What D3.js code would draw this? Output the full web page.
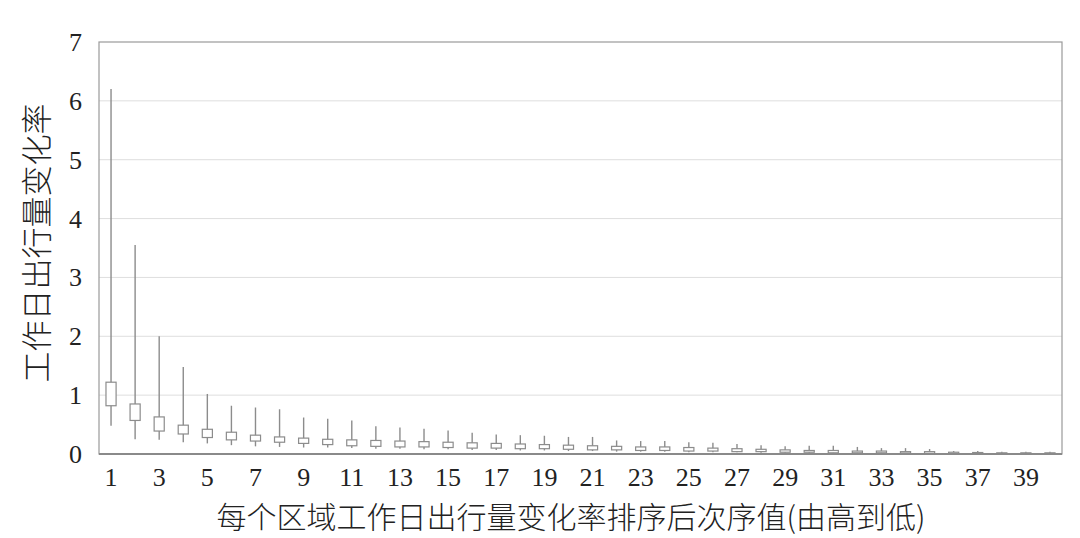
<!DOCTYPE html>
<html>
<head>
<meta charset="utf-8">
<script src="https://cdn.jsdelivr.net/npm/d3@7"></script>
<style>
  body { margin: 0; background: #fff; }
  svg text { fill: #222; }
</style>
</head>
<body>
<svg id="chart" width="1080" height="538"></svg>
<script>
// ranks 1..40
var ranks = d3.range(1, 41);
var maxVals = [6.2, 3.55, 2.0, 1.48, 1.02, 0.82, 0.79, 0.76, 0.62, 0.60,
  0.57, 0.47, 0.45, 0.43, 0.40, 0.36, 0.33, 0.32, 0.31, 0.29,
  0.29, 0.23, 0.22, 0.22, 0.20, 0.19, 0.17, 0.15, 0.13, 0.14,
  0.14, 0.12, 0.10, 0.10, 0.085, 0.05, 0.05, 0.04, 0.04, 0.04];
var q3Vals = [1.22, 0.85, 0.63, 0.49, 0.42, 0.37, 0.32, 0.29, 0.27, 0.25,
  0.24, 0.23, 0.22, 0.21, 0.20, 0.19, 0.18, 0.17, 0.16, 0.15,
  0.14, 0.13, 0.12, 0.12, 0.11, 0.10, 0.09, 0.08, 0.07, 0.06,
  0.06, 0.05, 0.05, 0.04, 0.04, 0.03, 0.025, 0.02, 0.02, 0.02];
var q1Vals = [0.82, 0.57, 0.39, 0.34, 0.28, 0.24, 0.22, 0.20, 0.18, 0.16,
  0.14, 0.13, 0.12, 0.12, 0.11, 0.10, 0.10, 0.09, 0.09, 0.08,
  0.07, 0.07, 0.06, 0.06, 0.05, 0.05, 0.04, 0.04, 0.03, 0.03,
  0.02, 0.02, 0.02, 0.015, 0.01, 0.01, 0.01, 0.005, 0.005, 0.005];
var minVals = [0.48, 0.25, 0.24, 0.20, 0.18, 0.15, 0.13, 0.12, 0.11, 0.11,
  0.10, 0.09, 0.09, 0.08, 0.08, 0.07, 0.07, 0.06, 0.06, 0.05,
  0.05, 0.04, 0.04, 0.04, 0.03, 0.03, 0.03, 0.02, 0.02, 0.01,
  0.01, 0.01, 0.01, 0.01, 0.005, 0.005, 0.005, 0, 0, 0];
var yTicks = [0, 1, 2, 3, 4, 5, 6, 7];
var xTickLabels = ranks.filter(function(d){ return d % 2 == 1; });

var margin = {left: 99, right: 18, top: 42, bottom: 84};
var width = 1080, height = 538;
var svg = d3.select("#chart");

var x = d3.scaleBand()
  .domain(ranks)
  .range([margin.left, width - margin.right])
  .paddingInner(0.58).paddingOuter(0.29);

var y = d3.scaleLinear()
  .domain([0, 7])
  .range([height - margin.bottom, margin.top]);

//gridlines
svg.append("g")
  .selectAll("line").data(yTicks.filter(function(d){ return d > 0 && d < 7; }))
  .enter().append("line")
    .attr("x1", margin.left).attr("x2", width - margin.right)
    .attr("y1", function(d){ return y(d); })
    .attr("y2", function(d){ return y(d); })
    .attr("stroke", "#dedede").attr("stroke-width", 1);

//frame
svg.append("rect")
  .attr("x", margin.left).attr("y", margin.top)
  .attr("width", width - margin.right - margin.left)
  .attr("height", y(0) - margin.top)
  .attr("fill", "none").attr("stroke", "#9a9a9a").attr("stroke-width", 1.2);

var data = ranks.map(function(r, i){
  return {rank: r, max: maxVals[i], q3: q3Vals[i], q1: q1Vals[i], min: minVals[i]};
});

var boxes = svg.append("g").selectAll("g").data(data).enter().append("g");

boxes.append("line")
  .attr("x1", function(d){ return x(d.rank) + x.bandwidth() / 2; })
  .attr("x2", function(d){ return x(d.rank) + x.bandwidth() / 2; })
  .attr("y1", function(d){ return y(d.max); })
  .attr("y2", function(d){ return y(d.min); })
  .attr("stroke", "#8c8c8c").attr("stroke-width", 1.4);

boxes.append("rect")
  .attr("x", function(d){ return x(d.rank); })
  .attr("width", x.bandwidth())
  .attr("y", function(d){ return y(d.q3); })
  .attr("height", function(d){ return Math.max(1.5, y(d.q1) - y(d.q3)); })
  .attr("fill", "#fff").attr("stroke", "#8c8c8c").attr("stroke-width", 1.2);

//bottom axis line
svg.append("line")
  .attr("x1", margin.left).attr("x2", width - margin.right)
  .attr("y1", y(0)).attr("y2", y(0))
  .attr("stroke", "#8a8a8a").attr("stroke-width", 2);

//tick labels
svg.append("g").selectAll("text").data(xTickLabels)
  .enter().append("text")
    .attr("x", function(d){ return x(d) + x.bandwidth() / 2; })
    .attr("y", 486)
    .attr("text-anchor", "middle")
    .style("font-family", "'Liberation Serif', 'Times New Roman', serif")
    .style("font-size", "26px")
    .text(function(d){ return d; });

svg.append("g").selectAll("text").data(yTicks)
  .enter().append("text")
    .attr("x", 82)
    .attr("y", function(d){ return y(d) + 9; })
    .attr("text-anchor", "end")
    .style("font-family", "'Liberation Serif', 'Times New Roman', serif")
    .style("font-size", "26px")
    .text(function(d){ return d; });

//axis titles
svg.append("text")
  .attr("x", 571).attr("y", 528)
  .attr("text-anchor", "middle")
  .style("font-family", "'Noto Sans CJK SC', sans-serif")
  .style("font-weight", 300)
  .style("font-size", "30px")
  .text("每个区域工作日出行量变化率排序后次序值(由高到低)");

svg.append("text")
  .attr("transform", "translate(48,243) rotate(-90)")
  .attr("text-anchor", "middle")
  .style("font-family", "'Noto Sans CJK SC', sans-serif")
  .style("font-weight", 300)
  .style("font-size", "31px")
  .text("工作日出行量变化率");
</script>
</body>
</html>
